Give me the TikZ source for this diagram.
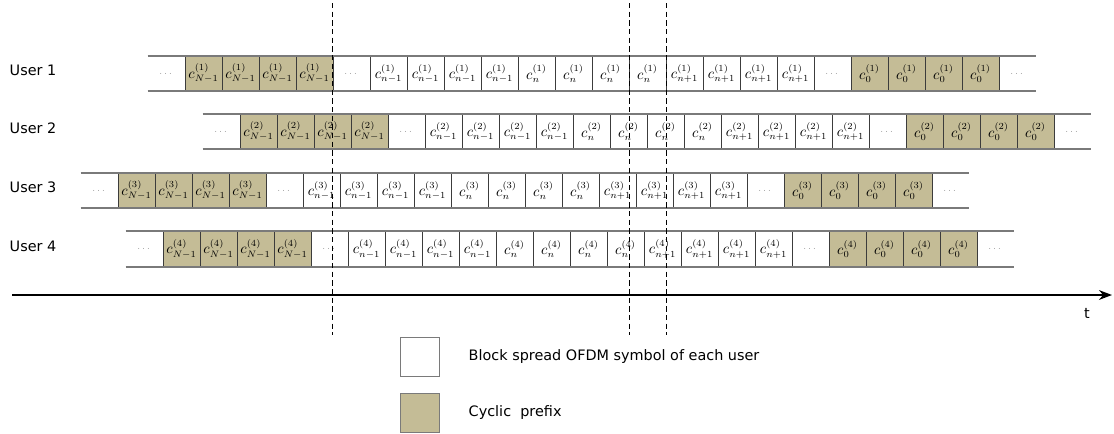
\documentclass[tikz,border=0pt]{standalone}
\usepackage{amsmath}
\usepackage{fontspec}
\setmainfont{DejaVu Sans}
\usetikzlibrary{arrows.meta,positioning}
\definecolor{CPtan}{HTML}{C4BC96}
\definecolor{RuleGray}{HTML}{7A7A7A}
\definecolor{SepDark}{HTML}{3C3C3C}
\newcommand\celld[1]{{\tiny$\cdots$}}
\newcommand\cellN[1]{$c^{(#1)}_{N-1}$}
\newcommand\cellm[1]{$c^{(#1)}_{n-1}$}
\newcommand\celln[1]{$c^{(#1)}_{n\vphantom{1}}$}
\newcommand\cellp[1]{$c^{(#1)}_{n+1}$}
\newcommand\cellz[1]{$c^{(#1)}_{0}$}

\begin{document}
\begin{tikzpicture}[x=0.75pt,y=-0.75pt,>=Stealth,
    cell/.style={minimum width=27.75pt,minimum height=26.25pt,inner sep=0pt,font=\fontsize{10.5}{12}\selectfont},
    kindN/.style={fill=CPtan}, kindz/.style={fill=CPtan},
    kindd/.style={}, kindm/.style={}, kindn/.style={}, kindp/.style={},
    sep/.style={SepDark,line width=0.8pt},
    rule/.style={RuleGray,line width=1.4pt},
    legbox/.style={draw=RuleGray,line width=0.8pt,minimum size=29.25pt,inner sep=0pt},
    lbl/.style={font=\fontsize{10.8}{13}\selectfont}]
  \useasboundingbox (0,0) rectangle (1114,433);

  \foreach \u/\xo/\yc in {1/148/73.5, 2/203/131.5, 3/81/190.5, 4/126/249}{
    \node[lbl,anchor=west] (user\u) at (5,\yc-3) {User \u};
    \foreach \k [count=\i] in {d,N,N,N,N,d,m,m,m,m,n,n,n,n,p,p,p,p,d,z,z,z,z,d}
      \node[cell,kind\k] (u\u-\i) at ({\xo+(\i-0.5)*37},\yc) {\csname cell\k\endcsname{\u}};
    \foreach \i in {1,...,23}
      \draw[sep] (u\u-\i.north east) -- (u\u-\i.south east);
    \draw[rule] (u\u-1.north west) -- (u\u-24.north east);
    \draw[rule] (u\u-1.south west) -- (u\u-24.south east);
  }

  % symbol boundaries
  \foreach \x in {332,629,666}
    \draw[dashed,dash pattern=on 4pt off 2.5pt,line width=0.7pt] (\x,3) -- (\x,335);

  % time axis
  \coordinate (t0) at (12,295);
  \coordinate (t1) at (1112,295);
  \draw[->,line width=1.5pt] (t0) -- (t1);
  \node[lbl] (tlabel) at (1087,313) {t};

  % legend
  \node[legbox] (legsym) at (420,357) {};
  \node[lbl,right=18pt of legsym] (legsymtxt) {Block spread OFDM symbol of each user};
  \node[legbox,fill=CPtan] (legcp) at (420,413) {};
  \node[lbl,right=18pt of legcp] (legcptxt) {Cyclic\ \ prefix};
\end{tikzpicture}
\end{document}
